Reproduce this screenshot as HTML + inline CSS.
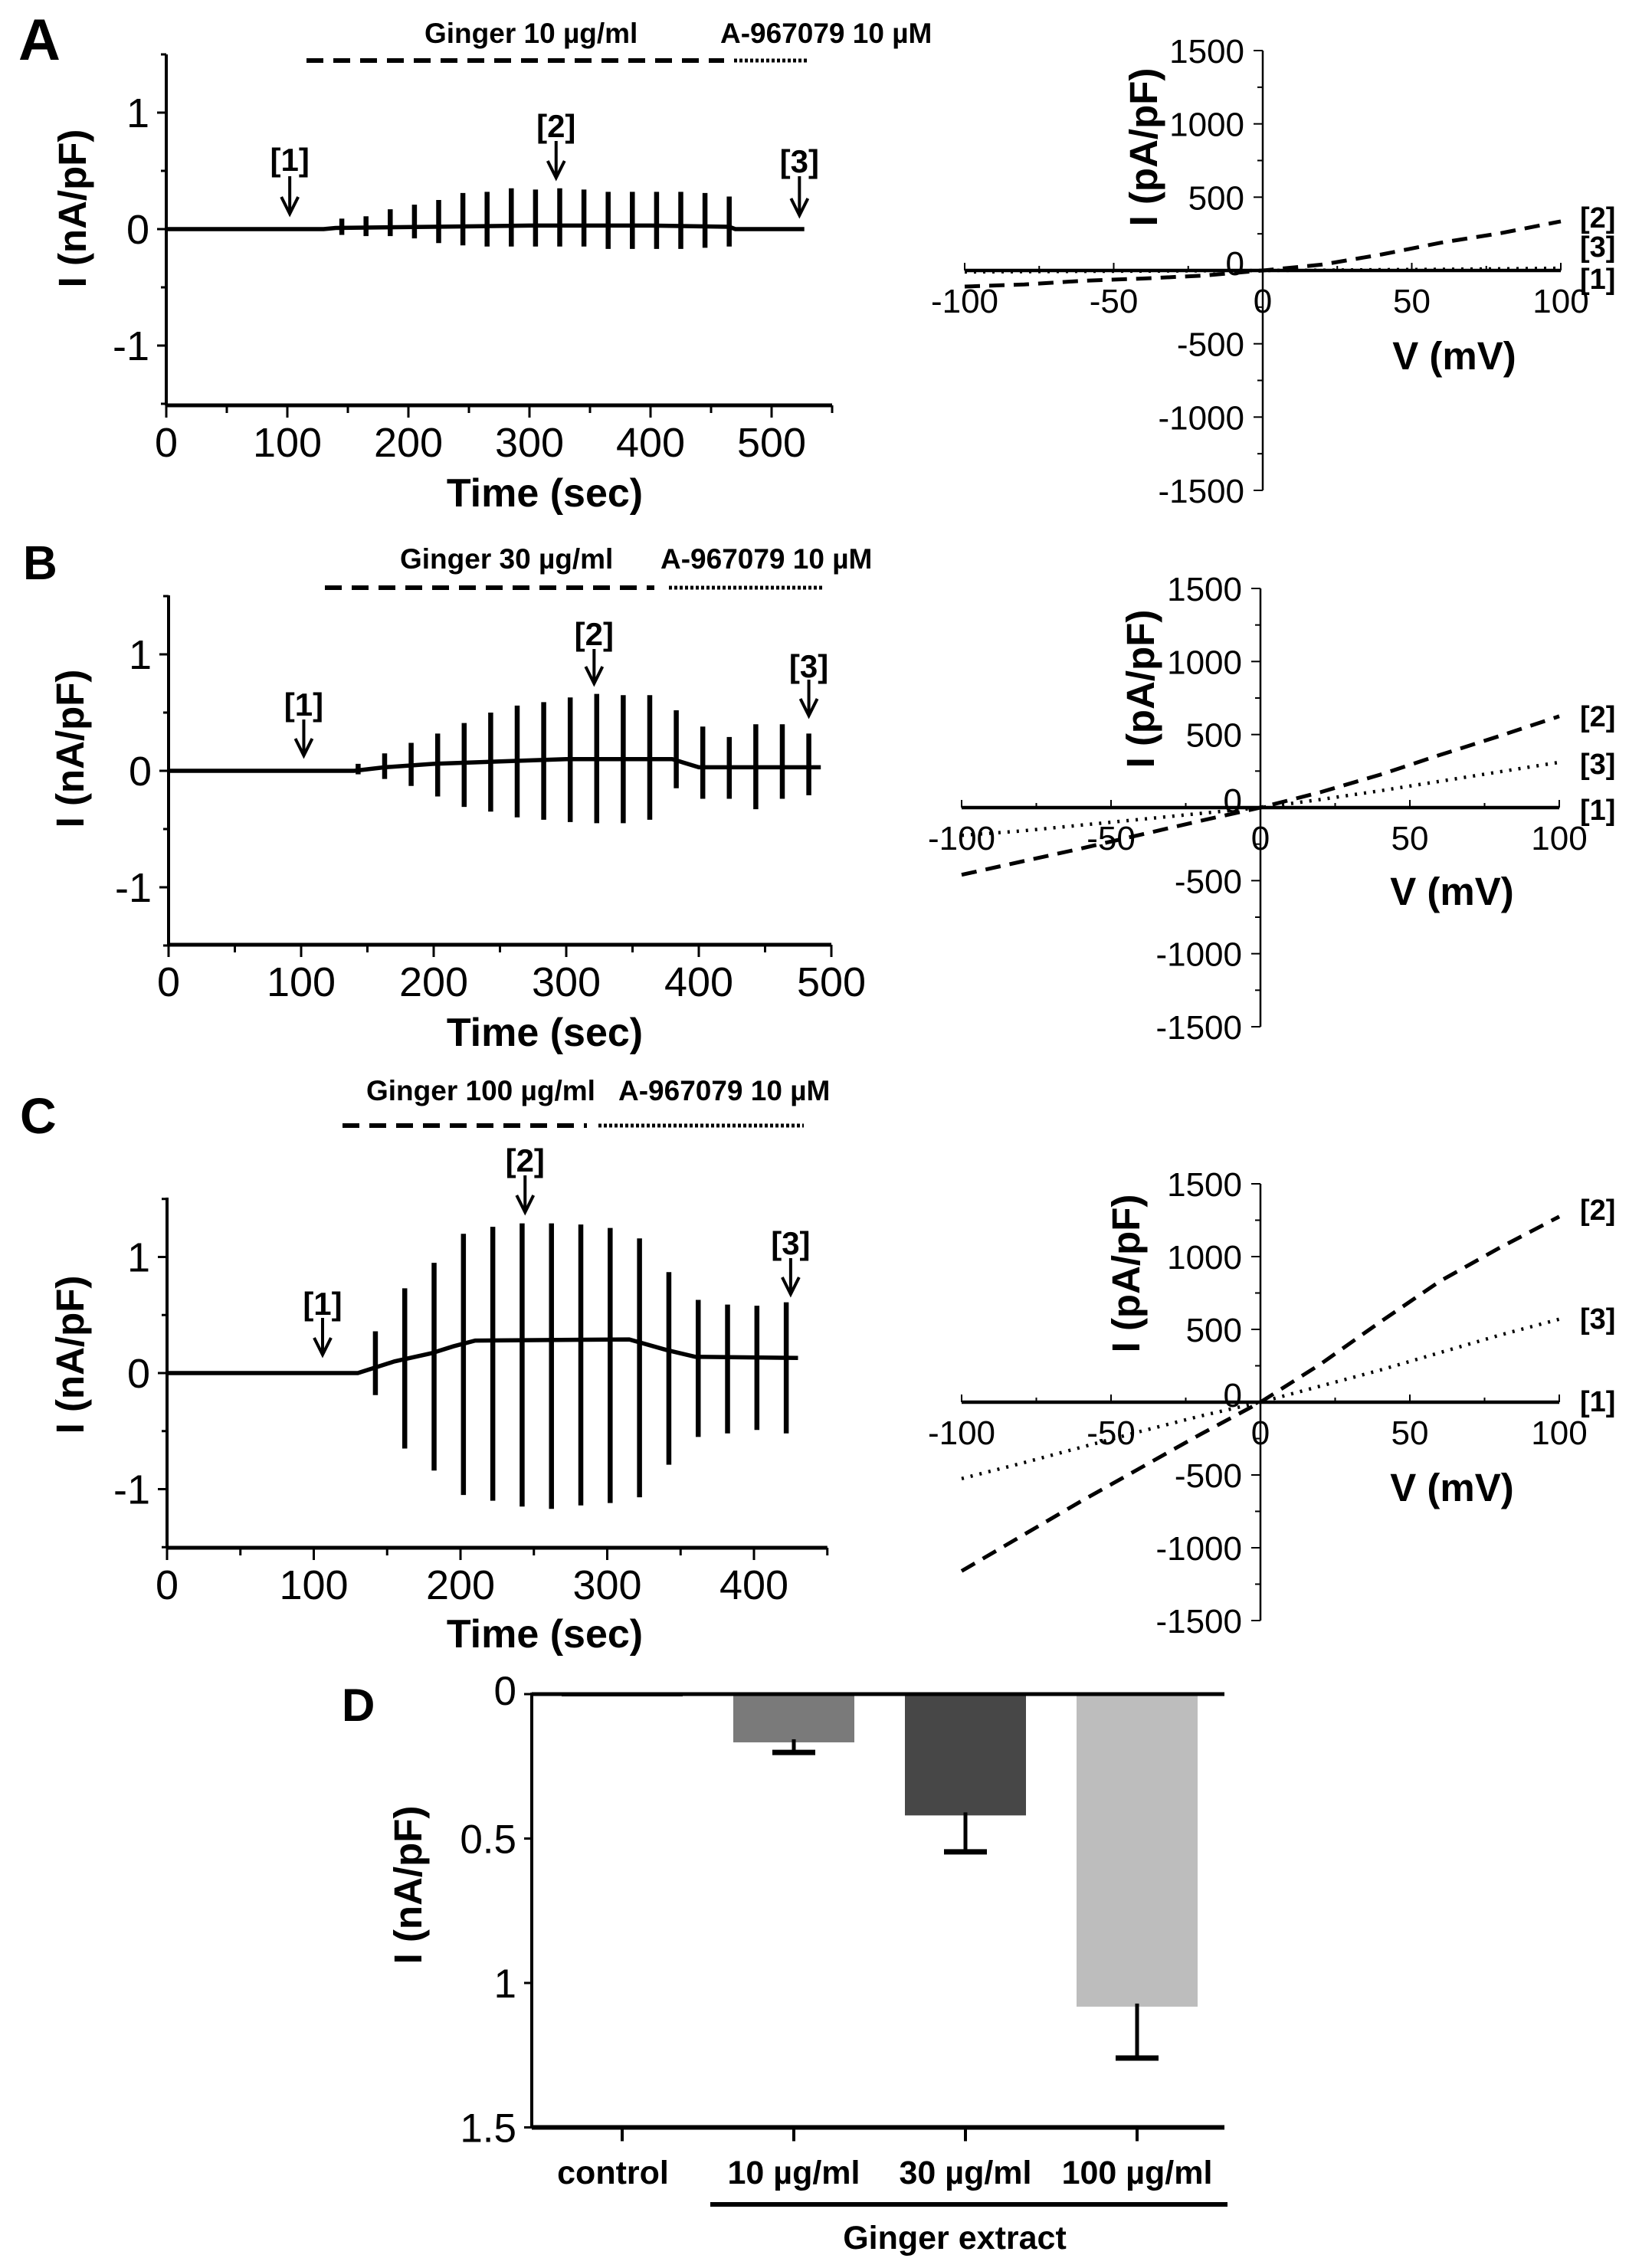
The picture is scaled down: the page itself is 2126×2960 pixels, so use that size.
<!DOCTYPE html>
<html><head><meta charset="utf-8"><style>
html,body{margin:0;padding:0;background:#fff;}
svg{display:block;}
text{font-family:"Liberation Sans",Arial,sans-serif;fill:#000;}
</style></head><body>
<svg id="fig" xmlns="http://www.w3.org/2000/svg" width="2126" height="2960" viewBox="0 0 2126 2960"></svg>
<script>
// ===== Data: trace panels =====
const aSpikeT = [145,165,185,205,225,245,265,285,305,325,345,365,385,405,425,445,465];
const aSpikeUp = [0.09,0.11,0.17,0.21,0.25,0.31,0.32,0.35,0.34,0.35,0.34,0.32,0.32,0.32,0.32,0.31,0.28];
const aSpikeDown = [-0.05,-0.06,-0.06,-0.08,-0.12,-0.14,-0.15,-0.15,-0.15,-0.15,-0.15,-0.17,-0.17,-0.17,-0.17,-0.16,-0.15];
const aBaseT = [0,130,140,220,300,400,465,470,527];
const aBaseI = [0,0,0.01,0.02,0.03,0.03,0.02,0,0];
const aArrowT = [102,322,523];

const bSpikeT = [143,163,183,203,223,243,263,283,303,323,343,363,383,403,423,443,463,483];
const bSpikeUp = [0.06,0.15,0.24,0.32,0.41,0.5,0.56,0.59,0.63,0.66,0.65,0.65,0.52,0.38,0.29,0.4,0.4,0.32];
const bSpikeDown = [-0.03,-0.07,-0.13,-0.22,-0.31,-0.35,-0.4,-0.42,-0.44,-0.45,-0.45,-0.42,-0.15,-0.24,-0.24,-0.33,-0.24,-0.21];
const bBaseT = [0,140,163,200,250,300,380,400,492];
const bBaseI = [0,0,0.03,0.06,0.08,0.1,0.1,0.03,0.03];
const bArrowT = [102,321,483];

const cSpikeT = [142,162,182,202,222,242,262,282,302,322,342,362,382,402,422];
const cSpikeUp = [0.36,0.73,0.95,1.2,1.26,1.29,1.29,1.28,1.25,1.16,0.87,0.63,0.59,0.58,0.61];
const cSpikeDown = [-0.19,-0.65,-0.84,-1.05,-1.1,-1.15,-1.17,-1.14,-1.12,-1.07,-0.79,-0.55,-0.52,-0.49,-0.52];
const cBaseT = [0,130,155,180,195,210,315,340,360,430];
const cBaseI = [0,0,0.1,0.17,0.23,0.28,0.29,0.2,0.14,0.13];
const cArrowT = [106,244,425];

const traceYTicks = [1,0,-1];
const aXTicks = [0,100,200,300,400,500];
const bXTicks = [0,100,200,300,400,500];
const cXTicks = [0,100,200,300,400];

// ===== Data: I-V panels =====
const ivV = [-100,-80,-60,-40,-20,0,20,40,60,80,100];
const aIV2 = [-110,-95,-70,-55,-35,0,40,110,190,255,335];
const aIV3 = [-10,-8,-6,-4,-2,0,2,5,8,11,15];
const bIV2 = [-460,-370,-280,-185,-90,0,105,225,360,490,625];
const bIV3 = [-190,-160,-120,-80,-40,0,55,115,180,245,310];
const cIV2 = [-1160,-920,-680,-450,-220,0,260,550,830,1060,1275];
const cIV3 = [-525,-420,-310,-200,-95,0,110,220,340,460,570];
const ivYTicks = [1500,1000,500,0,-500,-1000,-1500];
const ivXTicks = [-100,-50,0,50,100];

// ===== Data: bar chart D =====
const dCategories = ["control","10 µg/ml","30 µg/ml","100 µg/ml"];
const dValues = [0.005,0.167,0.42,1.082];
const dErrors = [0,0.035,0.126,0.178];
const dColors = ["#000","#7a7a7a","#474747","#bdbdbd"];
const dYTicks = [0,0.5,1,1.5];
const dYTickLabels = ["0","0.5","1","1.5"];

const NS = "http://www.w3.org/2000/svg";
const svg = document.getElementById("fig");
function mk(tag, attrs, name, parent) {
  const el = document.createElementNS(NS, tag);
  for (const k in attrs) el.setAttribute(k, attrs[k]);
  
  
  (parent || svg).appendChild(el);
  return el;
}
function ln(x1,y1,x2,y2,w,name,extra){
  const a = {x1:x1,y1:y1,x2:x2,y2:y2,stroke:"#000","stroke-width":w};
  if (extra) for (const k in extra) a[k]=extra[k];
  return mk("line",a,name);
}
function tx(x,y,s,size,name,opts){
  opts = opts||{};
  const a = {x:x,y:y,"font-size":size,"text-anchor":opts.anchor||"start"};
  if (opts.bold) a["font-weight"]="bold";
  if (opts.rot) a.transform = "rotate(-90 "+x+" "+y+")";
  const t = mk("text",a,name);
  t.textContent = s;
  return t;
}

// ===== Trace panel =====
function tracePanel(p, spT, spU, spD, bT, bI, arT, xTicks) {
  const X = t => p.ax + t * p.sec;
  const Y = v => p.y0 - v * p.unit;
  tx(p.lx, p.lb, p.letter, p.ls, "panel-label-"+p.id, {bold:true});
  ln(p.ax, p.top, p.ax, p.bottom, 4, "y-axis-"+p.id);
  ln(p.ax, p.bottom, X(p.xmax), p.bottom, 5, "x-axis-"+p.id);
  for (let v=-1.5; v<=1.5001; v+=0.5) {
    const maj = Math.abs(v-Math.round(v))<1e-6;
    ln(p.ax-(maj?12:7), Y(v), p.ax, Y(v), 3, "y-tick-"+p.id);
  }
  traceYTicks.forEach(v => tx(p.ax-22, Y(v)+19, String(v), 54, "y-tick-label-"+p.id, {anchor:"end"}));
  for (let t=0; t<=p.xmax+0.1; t+=50) {
    ln(X(t), p.bottom, X(t), p.bottom+(t%100===0?16:10), 3, "x-tick-"+p.id);
  }
  xTicks.forEach(t => tx(X(t), p.bottom+67, String(t), 54, "x-tick-label-"+p.id, {anchor:"middle"}));
  tx(711, p.bottom+p.tOff, "Time (sec)", 52, "x-axis-title-"+p.id, {anchor:"middle", bold:true});
  tx(p.ytx+17, p.yty, "I (nA/pF)", 51, "y-axis-title-"+p.id, {anchor:"middle", bold:true, rot:true});
  const pts = bT.map((t,i)=>X(t).toFixed(1)+","+Y(bI[i]).toFixed(1)).join(" ");
  mk("polyline",{points:pts,fill:"none",stroke:"#000","stroke-width":5.5},"current-trace-"+p.id);
  spT.forEach((t,i)=>{
    ln(X(t), Y(spU[i]), X(t), Y(spD[i]), 6.5, "current-spike-"+p.id);
  });
  ln(p.dash[0], p.barY, p.dash[1], p.barY, 6, "ginger-bar-"+p.id, {"stroke-dasharray":"22 13"});
  ln(p.dot[0], p.barY, p.dot[1], p.barY, 5, "antagonist-bar-"+p.id, {"stroke-dasharray":"4 3"});
  tx(p.gx, p.gb, p.gtext, 37, "ginger-label-"+p.id, {bold:true});
  tx(p.axx, p.gb, "A-967079 10 µM", 37, "antagonist-label-"+p.id, {bold:true});
  arT.forEach((t,i)=>{
    const x = X(t), a = p.arrows[i];
    tx(x, a[0], "["+(i+1)+"]", 42, "arrow-label-"+(i+1)+"-"+p.id, {anchor:"middle", bold:true});
    ln(x, a[1], x, a[2], 4, "arrow-"+(i+1)+"-"+p.id);
    mk("polyline",{points:(x-11)+","+(a[2]-22)+" "+x+","+a[2]+" "+(x+11)+","+(a[2]-22),fill:"none",stroke:"#000","stroke-width":4},"arrow-head-"+(i+1)+"-"+p.id);
  });
}
tracePanel({id:"a",letter:"A",lx:24,lb:78,ls:76,ax:217,y0:299,unit:152,sec:1.58,xmax:550,top:71,bottom:529,tOff:132,ytx:95,yty:272,
  dash:[400,945],dot:[958,1056],barY:79,gx:554,gb:56,gtext:"Ginger  10 µg/ml",axx:940,
  arrows:[[223,230,279],[179,184,232],[225,230,281]]}, aSpikeT,aSpikeUp,aSpikeDown,aBaseT,aBaseI,aArrowT,aXTicks);
tracePanel({id:"b",letter:"B",lx:30,lb:756,ls:62,ax:220,y0:1006,unit:152,sec:1.73,xmax:500,top:777,bottom:1233,tOff:132,ytx:92,yty:977,
  dash:[424,854],dot:[873,1074],barY:767,gx:522,gb:742,gtext:"Ginger 30 µg/ml",axx:862,
  arrows:[[934,939,986],[842,847,892],[884,887,934]]}, bSpikeT,bSpikeUp,bSpikeDown,bBaseT,bBaseI,bArrowT,bXTicks);
tracePanel({id:"c",letter:"C",lx:26,lb:1479,ls:66,ax:218,y0:1792,unit:151.5,sec:1.915,xmax:450,top:1563,bottom:2020,tOff:130,ytx:92,yty:1768,
  dash:[447,766],dot:[781,1049],barY:1469,gx:478,gb:1436,gtext:"Ginger 100 µg/ml",axx:807,
  arrows:[[1716,1720,1768],[1529,1534,1582],[1637,1642,1689]]}, cSpikeT,cSpikeUp,cSpikeDown,cBaseT,cBaseI,cArrowT,cXTicks);

// ===== IV panel =====
function ivPanel(p, s2, s3) {
  const X = v => p.ax + v/100*(p.xR-p.ax);
  const Y = i => p.y0 - i/1500*p.h;
  ln(p.ax, Y(1500), p.ax, Y(-1500), 2.5, "iv-y-axis-"+p.id);
  ln(X(-100), p.y0, X(100), p.y0, 2.5, "iv-x-axis-"+p.id);
  for (let i=-1500;i<=1500;i+=250) ln(p.ax-(i%500===0?12:7), Y(i), p.ax, Y(i), 2, "iv-y-tick-"+p.id);
  for (let v=-100;v<=100;v+=25) ln(X(v), p.y0, X(v), p.y0-(v%50===0?10:6), 2, "iv-x-tick-"+p.id);
  ivYTicks.forEach(i=>{ if(i!==0) tx(p.ax-24, Y(i)+16, String(i), 44, "iv-y-tick-label-"+p.id, {anchor:"end"}); });
  tx(p.ax-24, p.y0+6, "0", 44, "iv-y-tick-label-"+p.id, {anchor:"end"});
  ivXTicks.forEach(v=> tx(X(v), p.y0+55, String(v), 44, "iv-x-tick-label-"+p.id, {anchor:"middle"}));
  tx(p.vx, p.vb, "V (mV)", 51, "iv-x-axis-title-"+p.id, {anchor:"middle", bold:true});
  tx(p.ytx+17, p.yty, "I (pA/pF)", 51, "iv-y-axis-title-"+p.id, {anchor:"middle", bold:true, rot:true});
  ln(X(-100), p.y0, X(100), p.y0, 4.5, "iv-curve-1-"+p.id);
  const pts2 = ivV.map((v,k)=>X(v).toFixed(1)+","+Y(s2[k]).toFixed(1)).join(" ");
  mk("polyline",{points:pts2,fill:"none",stroke:"#000","stroke-width":5,"stroke-dasharray":"20 12"},"iv-curve-2-"+p.id);
  const pts3 = ivV.map((v,k)=>X(v).toFixed(1)+","+Y(s3[k]).toFixed(1)).join(" ");
  mk("polyline",{points:pts3,fill:"none",stroke:"#000","stroke-width":4.5,"stroke-dasharray":"3 9"},"iv-curve-3-"+p.id);
  tx(2062, p.lb[0], "[2]", 38, "iv-label-2-"+p.id, {bold:true});
  tx(2062, p.lb[1], "[3]", 38, "iv-label-3-"+p.id, {bold:true});
  tx(2062, p.lb[2], "[1]", 38, "iv-label-1-"+p.id, {bold:true});
}
ivPanel({id:"a",ax:1648,y0:353,h:287,xR:2037,vx:1898,vb:482,ytx:1493,yty:192,lb:[297,335,377]}, aIV2, aIV3);
ivPanel({id:"b",ax:1645,y0:1054,h:286,xR:2035,vx:1895,vb:1181,ytx:1489,yty:899,lb:[948,1010,1070]}, bIV2, bIV3);
ivPanel({id:"c",ax:1645,y0:1830,h:285,xR:2035,vx:1895,vb:1959,ytx:1470,yty:1662,lb:[1592,1734,1842]}, cIV2, cIV3);

// ===== Bar chart D =====
(function(){
  const ax=694, y0=2211, unit=377, right=1598, bw=158;
  const Y = v => y0 + v*unit;
  const CX = i => 812 + i*224;
  tx(446, 2246, "D", 60, "panel-label-d", {bold:true});
  dValues.forEach((v,i)=>{
    const h = Math.max(Y(v)-y0, 3);
    mk("rect",{x:CX(i)-bw/2,y:y0,width:bw,height:h,fill:dColors[i]},"bar-"+i);
    if (dErrors[i]>0) {
      ln(CX(i), Y(v)-4, CX(i), Y(v+dErrors[i]), 5, "error-bar-"+i);
      ln(CX(i)-28, Y(v+dErrors[i]), CX(i)+28, Y(v+dErrors[i]), 7, "error-cap-"+i);
    }
  });
  ln(ax, y0, right, y0, 5, "d-top-axis");
  ln(ax, y0-2, ax, Y(1.5), 4, "d-y-axis");
  ln(ax, Y(1.5), right, Y(1.5), 6, "d-x-axis");
  dYTicks.forEach((v,i)=>{
    ln(ax-10, Y(v), ax, Y(v), 3, "d-y-tick");
    tx(674, Y(v)+(i===0?14:19), dYTickLabels[i], 53, "d-y-tick-label", {anchor:"end"});
  });
  dCategories.forEach((c,i)=>{
    ln(CX(i), Y(1.5), CX(i), Y(1.5)+18, 4, "d-x-tick");
    tx(CX(i)+(i===0?-12:0), 2850, c, 43, "d-category-label", {anchor:"middle", bold:true});
  });
  ln(927, 2877, 1602, 2877, 6, "ginger-extract-underline");
  tx(1246, 2935, "Ginger extract", 43, "ginger-extract-label", {anchor:"middle", bold:true});
  tx(550, 2460, "I (nA/pF)", 51, "d-y-axis-title", {anchor:"middle", bold:true, rot:true});
})();
</script>
</body></html>
